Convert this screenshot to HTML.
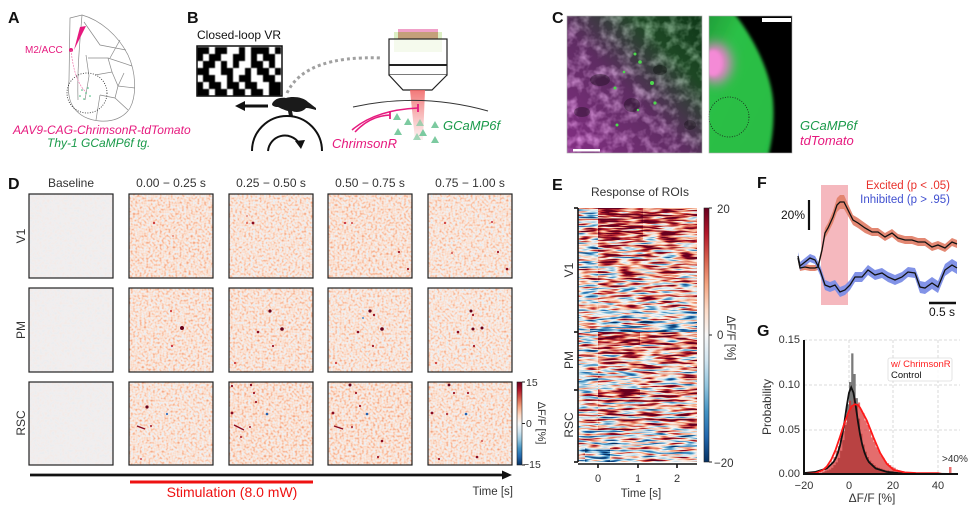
<!DOCTYPE html>
<html><head><meta charset="utf-8"><style>
html,body{margin:0;padding:0;background:#fff;}
svg{display:block;font-family:"Liberation Sans",Arial,sans-serif;}
</style></head><body>
<svg width="969" height="507" viewBox="0 0 969 507" xmlns="http://www.w3.org/2000/svg">
<defs>
 <linearGradient id="rdbu" x1="0" y1="0" x2="0" y2="1">
  <stop offset="0" stop-color="#67001f"/><stop offset="0.1" stop-color="#b2182b"/>
  <stop offset="0.2" stop-color="#d6604d"/><stop offset="0.3" stop-color="#f4a582"/>
  <stop offset="0.4" stop-color="#fddbc7"/><stop offset="0.5" stop-color="#f7f7f7"/>
  <stop offset="0.6" stop-color="#d1e5f0"/><stop offset="0.7" stop-color="#92c5de"/>
  <stop offset="0.8" stop-color="#4393c3"/><stop offset="0.9" stop-color="#2166ac"/>
  <stop offset="1" stop-color="#053061"/>
 </linearGradient>
 <filter id="fD" x="0" y="0" width="1" height="1" color-interpolation-filters="sRGB">
  <feTurbulence type="fractalNoise" baseFrequency="0.45" numOctaves="1" seed="3" result="n"/>
  <feColorMatrix in="n" type="matrix" values="1 0 0 0 0 1 0 0 0 0 1 0 0 0 0 0 0 0 0 1" result="g"/>
  <feComposite in="SourceGraphic" in2="g" operator="arithmetic" k1="0" k2="1" k3="0.45" k4="-0.225" result="c"/>
  <feComponentTransfer in="c">
   <feFuncR type="table" tableValues="0.020 0.129 0.263 0.573 0.820 0.955 0.992 0.957 0.839 0.698 0.404"/>
   <feFuncG type="table" tableValues="0.188 0.400 0.576 0.773 0.898 0.945 0.859 0.647 0.376 0.094 0.000"/>
   <feFuncB type="table" tableValues="0.380 0.675 0.765 0.871 0.941 0.948 0.780 0.510 0.302 0.169 0.122"/>
  </feComponentTransfer>
 </filter>
 <filter id="fB" x="0" y="0" width="1" height="1" color-interpolation-filters="sRGB">
  <feTurbulence type="fractalNoise" baseFrequency="0.4" numOctaves="1" seed="7" result="n"/>
  <feColorMatrix in="n" type="matrix" values="1 0 0 0 0 1 0 0 0 0 1 0 0 0 0 0 0 0 0 1" result="g"/>
  <feComposite in="SourceGraphic" in2="g" operator="arithmetic" k1="0" k2="1" k3="0.08" k4="-0.04" result="c"/>
  <feComponentTransfer in="c">
   <feFuncR type="table" tableValues="0.020 0.129 0.263 0.573 0.820 0.945 0.992 0.957 0.839 0.698 0.404"/>
   <feFuncG type="table" tableValues="0.188 0.400 0.576 0.773 0.898 0.937 0.859 0.647 0.376 0.094 0.000"/>
   <feFuncB type="table" tableValues="0.380 0.675 0.765 0.871 0.941 0.941 0.780 0.510 0.302 0.169 0.122"/>
  </feComponentTransfer>
 </filter>
 <filter id="fE" x="0" y="0" width="1" height="1" color-interpolation-filters="sRGB">
  <feTurbulence type="fractalNoise" baseFrequency="0.05 0.42" numOctaves="2" seed="11" result="n"/>
  <feColorMatrix in="n" type="matrix" values="1 0 0 0 0 1 0 0 0 0 1 0 0 0 0 0 0 0 0 1" result="g"/>
  <feComposite in="SourceGraphic" in2="g" operator="arithmetic" k1="0" k2="1" k3="1.8" k4="-0.9" result="c"/>
  <feComponentTransfer in="c">
   <feFuncR type="table" tableValues="0.020 0.129 0.263 0.573 0.820 0.969 0.992 0.957 0.839 0.698 0.404"/>
   <feFuncG type="table" tableValues="0.188 0.400 0.576 0.773 0.898 0.969 0.859 0.647 0.376 0.094 0.000"/>
   <feFuncB type="table" tableValues="0.380 0.675 0.765 0.871 0.941 0.969 0.780 0.510 0.302 0.169 0.122"/>
  </feComponentTransfer>
 </filter>
 <filter id="fC" x="0" y="0" width="1" height="1" color-interpolation-filters="sRGB">
  <feTurbulence type="fractalNoise" baseFrequency="0.09" numOctaves="3" seed="5" result="n"/>
  <feColorMatrix in="n" type="matrix" values="2.4 0 0 0 -1.0 2.4 0 0 0 -1.0 2.4 0 0 0 -1.0 0 0 0 0 1"/>
 </filter>
 <filter id="blur2"><feGaussianBlur stdDeviation="1.5"/></filter>
 <filter id="blur6" x="-1" y="-1" width="3" height="3"><feGaussianBlur stdDeviation="6"/></filter>
 <filter id="blurS"><feGaussianBlur stdDeviation="0.5"/></filter>
 <linearGradient id="cl1" x1="0" y1="1" x2="1" y2="0">
  <stop offset="0" stop-color="#c446c4"/><stop offset="0.45" stop-color="#8c4292"/>
  <stop offset="0.75" stop-color="#2c6a36"/><stop offset="1" stop-color="#155222"/>
 </linearGradient>
 <linearGradient id="beam" x1="0" y1="0" x2="0" y2="1">
  <stop offset="0" stop-color="#f06060" stop-opacity="0.85"/><stop offset="1" stop-color="#f08080" stop-opacity="0.1"/>
 </linearGradient>
 <linearGradient id="gr" x1="0" y1="0" x2="1" y2="1">
  <stop offset="0" stop-color="#1f9a38"/><stop offset="0.3" stop-color="#2cc046"/><stop offset="1" stop-color="#28bc44"/>
 </linearGradient>
 <clipPath id="clipC2"><rect x="709" y="16" width="83" height="137"/></clipPath>
</defs>

<!-- ===== Panel A ===== -->
<text x="8" y="23" font-size="16" font-weight="bold" fill="#111">A</text>
<g fill="none" stroke="#8a8a8a" stroke-width="0.7">
 <path d="M70 18 L82 15 C100 20 118 35 128 55 C136 72 137 95 130 108 C124 118 112 122 100 121 C88 120 80 116 74 108 C68 100 68 90 69 80 Z"/>
 <path d="M82 15 C80 40 77 70 78 100"/>
 <path d="M84 22 L100 45 L126 50"/>
 <path d="M88 58 L108 58 L132 66"/>
 <path d="M95 75 L112 72 L118 86 L135 88"/>
 <path d="M100 95 L115 98 L128 110"/>
 <path d="M86 55 L89 76 L85 100"/>
 <path d="M108 58 L112 72"/><path d="M115 98 L118 86"/><path d="M100 95 L96 120"/>
 <path d="M120 40 L110 58"/><path d="M124 73 L118 86"/>
</g>
<circle cx="87" cy="93" r="20" fill="none" stroke="#222" stroke-width="0.8" stroke-dasharray="1 1.5"/>
<polygon points="80,27 86,26 74,50" fill="#e6197e"/>
<circle cx="71" cy="50" r="2" fill="#e6197e"/>
<path d="M71 50 C73 70 78 85 86 92" fill="none" stroke="#f07ab0" stroke-width="0.7" stroke-dasharray="2 1"/>
<g fill="#3cb878"><circle cx="82" cy="90" r="0.8"/><circle cx="86" cy="93" r="0.8"/><circle cx="80" cy="96" r="0.8"/><circle cx="88" cy="88" r="0.8"/><circle cx="84" cy="99" r="0.8"/><circle cx="90" cy="96" r="0.8"/></g>
<text x="25" y="53" font-size="10" fill="#e6197e">M2/ACC</text>
<text x="13" y="134" font-size="12" font-style="italic" fill="#e6197e">AAV9-CAG-ChrimsonR-tdTomato</text>
<text x="47" y="147" font-size="12" font-style="italic" fill="#1a9a4a">Thy-1 GCaMP6f tg.</text>

<!-- ===== Panel B ===== -->
<text x="187" y="23" font-size="16" font-weight="bold" fill="#111">B</text>
<text x="197" y="39" font-size="12" fill="#111">Closed-loop VR</text>
<g fill="#000" filter="url(#blurS)">
 <rect x="197" y="47" width="12" height="7"/><rect x="215" y="47" width="12" height="7"/><rect x="239" y="47" width="6" height="7"/><rect x="251" y="47" width="18" height="7"/><rect x="275" y="47" width="6" height="7"/>
 <rect x="197" y="54" width="6" height="7"/><rect x="209" y="54" width="12" height="7"/><rect x="233" y="54" width="12" height="7"/><rect x="251" y="54" width="6" height="7"/><rect x="263" y="54" width="12" height="7"/>
 <rect x="203" y="61" width="12" height="7"/><rect x="221" y="61" width="6" height="7"/><rect x="233" y="61" width="6" height="7"/><rect x="251" y="61" width="12" height="7"/><rect x="269" y="61" width="6" height="7"/>
 <rect x="197" y="68" width="12" height="7"/><rect x="221" y="68" width="12" height="7"/><rect x="245" y="68" width="6" height="7"/><rect x="257" y="68" width="12" height="7"/><rect x="275" y="68" width="6" height="7"/>
 <rect x="203" y="75" width="12" height="7"/><rect x="227" y="75" width="6" height="7"/><rect x="239" y="75" width="12" height="7"/><rect x="263" y="75" width="12" height="7"/>
 <rect x="197" y="82" width="6" height="7"/><rect x="209" y="82" width="12" height="7"/><rect x="227" y="82" width="12" height="7"/><rect x="245" y="82" width="12" height="7"/><rect x="269" y="82" width="12" height="7"/>
 <rect x="197" y="89" width="12" height="7"/><rect x="215" y="89" width="12" height="7"/><rect x="233" y="89" width="12" height="7"/><rect x="251" y="89" width="12" height="7"/><rect x="269" y="89" width="12" height="7"/>
</g>
<rect x="197" y="46" width="85" height="50" fill="none" stroke="#111" stroke-width="1.5"/>
<path d="M287 93 Q305 55 382 58" fill="none" stroke="#a0a0a0" stroke-width="3" stroke-dasharray="3 3"/>
<line x1="243" y1="106" x2="268" y2="106" stroke="#111" stroke-width="3"/>
<polygon points="235,106 245,101 245,111" fill="#111"/>
<path d="M272 104 C274 99 280 97 286 98 C293 96 303 97 308 102 C311 104 313 106 316 108 L316 110 C312 109 309 108 306 108 C303 112 296 113 292 111 L293 116 L289 116 L288 111 C284 110 280 108 278 107 C275 107 272 106 272 104 Z" fill="#1a1a1a"/>
<path d="M252 151 A35 35 0 0 1 322 151" fill="none" stroke="#111" stroke-width="2"/>
<path d="M268 151 A17 17 0 0 1 299 143" fill="none" stroke="#111" stroke-width="2"/>
<polygon points="295,141 305,140 301,149" fill="#111"/>
<!-- microscope -->
<rect x="394" y="32" width="48" height="20" fill="#dcefc4"/>
<rect x="398" y="29" width="40" height="3" fill="#f0a0c8"/>
<rect x="398" y="32" width="40" height="7" fill="#c4a07a"/>
<rect x="389" y="39" width="58" height="36" fill="#fff" fill-opacity="0.7" stroke="#222" stroke-width="1.2"/>
<line x1="389" y1="65" x2="447" y2="65" stroke="#222" stroke-width="2"/>
<path d="M389 75 L403 90 L432 90 L447 75" fill="#fff" stroke="#222" stroke-width="1.2"/>
<polygon points="410,90 425,90 423,140 415,140" fill="url(#beam)"/>
<path d="M353 107 Q420 92 488 111" fill="none" stroke="#333" stroke-width="1"/>
<path d="M352 130 Q375 110 418 108" fill="none" stroke="#e6197e" stroke-width="1.5"/>
<line x1="418" y1="104" x2="418" y2="112" stroke="#e6197e" stroke-width="1.8"/>
<path d="M355 132 Q370 116 390 115" fill="none" stroke="#e6197e" stroke-width="1.5"/>
<line x1="390" y1="111" x2="390" y2="119" stroke="#e6197e" stroke-width="1.8"/>
<g fill="#7ccaa0">
 <polygon points="397,113 393,120 401,120"/><polygon points="408,118 404,125 412,125"/><polygon points="420,119 416,126 424,126" opacity="0.7"/><polygon points="435,121 431,128 439,128"/>
 <polygon points="398,128 394,135 402,135"/><polygon points="423,129 419,136 427,136"/><polygon points="417,133 413,140 421,140" opacity="0.7"/><polygon points="435,136 431,143 439,143"/>
</g>
<text x="443" y="130" font-size="13" font-style="italic" fill="#1a9a4a">GCaMP6f</text>
<text x="332" y="148" font-size="13" font-style="italic" fill="#e6197e">ChrimsonR</text>

<!-- ===== Panel C ===== -->
<text x="552" y="23" font-size="16" font-weight="bold" fill="#111">C</text>
<rect x="567" y="16" width="135" height="137" fill="url(#cl1)"/>
<rect x="567" y="16" width="135" height="137" filter="url(#fC)" opacity="0.32"/>
<g fill="#000" opacity="0.3">
 <ellipse cx="600" cy="80" rx="10" ry="6"/><ellipse cx="632" cy="105" rx="8" ry="7"/><ellipse cx="690" cy="125" rx="6" ry="5"/><ellipse cx="582" cy="112" rx="8" ry="5"/><ellipse cx="660" cy="70" rx="7" ry="5"/>
</g>
<g fill="#4ed84e">
 <circle cx="635" cy="54" r="1.5"/><circle cx="640" cy="62" r="1.8"/><circle cx="615" cy="88" r="1.5"/><circle cx="652" cy="83" r="2"/><circle cx="655" cy="103" r="1.6"/><circle cx="617" cy="125" r="1.5"/><circle cx="638" cy="110" r="1.3"/><circle cx="624" cy="72" r="1.3"/>
</g>
<rect x="573" y="149" width="27" height="2.5" fill="#fff"/>
<rect x="567" y="16" width="135" height="137" fill="none" stroke="#aaa" stroke-width="0.6"/>
<rect x="709" y="16" width="83" height="137" fill="#000"/>
<g clip-path="url(#clipC2)">
 <path d="M705 12 L733 12 C752 35 770 70 773 100 C775 125 771 145 768 157 L705 157 Z" fill="url(#gr)" filter="url(#blur2)"/>
 <ellipse cx="715" cy="63" rx="16" ry="20" fill="#f080d0" filter="url(#blur6)"/>
 <ellipse cx="713" cy="63" rx="9" ry="13" fill="#f48ad6" filter="url(#blur2)"/>
</g>
<circle cx="729" cy="117" r="20" fill="none" stroke="#1a1a1a" stroke-width="0.8" stroke-dasharray="1 1.5"/>
<rect x="762" y="18" width="29" height="4" fill="#fff"/>
<rect x="709" y="16" width="83" height="137" fill="none" stroke="#aaa" stroke-width="0.6"/>
<text x="800" y="130" font-size="13" font-style="italic" fill="#1a9a4a">GCaMP6f</text>
<text x="800" y="145" font-size="13" font-style="italic" fill="#e6197e">tdTomato</text>

<!-- ===== Panel D ===== -->
<text x="8" y="189" font-size="16" font-weight="bold" fill="#111">D</text>
<g font-size="12" fill="#333" text-anchor="middle">
 <text x="71" y="187">Baseline</text>
 <text x="171" y="187">0.00 − 0.25 s</text>
 <text x="271" y="187">0.25 − 0.50 s</text>
 <text x="370" y="187">0.50 − 0.75 s</text>
 <text x="470" y="187">0.75 − 1.00 s</text>
 <text transform="translate(25,236) rotate(-90)">V1</text>
 <text transform="translate(25,330) rotate(-90)">PM</text>
 <text transform="translate(25,423) rotate(-90)">RSC</text>
</g>
<g>
 <rect x="29" y="194" width="84" height="84" fill="rgb(128,128,128)" filter="url(#fB)"/>
 <rect x="29" y="288" width="84" height="84" fill="rgb(128,128,128)" filter="url(#fB)"/>
 <rect x="29" y="382" width="84" height="83" fill="rgb(128,128,128)" filter="url(#fB)"/>
 <rect x="129" y="194" width="84" height="84" fill="rgb(146,146,146)" filter="url(#fD)"/>
 <rect x="229" y="194" width="84" height="84" fill="rgb(144,144,144)" filter="url(#fD)"/>
 <rect x="328" y="194" width="84" height="84" fill="rgb(146,146,146)" filter="url(#fD)"/>
 <rect x="428" y="194" width="84" height="84" fill="rgb(144,144,144)" filter="url(#fD)"/>
 <rect x="129" y="288" width="84" height="84" fill="rgb(145,145,145)" filter="url(#fD)"/>
 <rect x="229" y="288" width="84" height="84" fill="rgb(145,145,145)" filter="url(#fD)"/>
 <rect x="328" y="288" width="84" height="84" fill="rgb(144,144,144)" filter="url(#fD)"/>
 <rect x="428" y="288" width="84" height="84" fill="rgb(143,143,143)" filter="url(#fD)"/>
 <rect x="129" y="382" width="84" height="83" fill="rgb(144,144,144)" filter="url(#fD)"/>
 <rect x="229" y="382" width="84" height="83" fill="rgb(147,147,147)" filter="url(#fD)"/>
 <rect x="328" y="382" width="84" height="83" fill="rgb(147,147,147)" filter="url(#fD)"/>
 <rect x="428" y="382" width="84" height="83" fill="rgb(145,145,145)" filter="url(#fD)"/>
</g>
<g fill="#a01828">
 <circle cx="154" cy="223" r="1.2" fill="#d04040"/><circle cx="173" cy="236" r="0.9" fill="#e07060"/>
 <circle cx="253" cy="223" r="1.4" fill="#8b0a1f"/><circle cx="247" cy="223" r="1" fill="#e06050"/><circle cx="247" cy="216" r="0.9" fill="#e07060"/>
 <circle cx="345" cy="223" r="1.1" fill="#c83040"/><circle cx="352" cy="223" r="1" fill="#d04040"/><circle cx="399" cy="252" r="1.1"/><circle cx="408" cy="269" r="1.1"/>
 <circle cx="445" cy="223" r="1.1" fill="#d04040"/><circle cx="492" cy="222" r="1" fill="#c83040"/><circle cx="498" cy="252" r="1.1"/><circle cx="507" cy="269" r="1.3" fill="#8b0a1f"/><circle cx="452" cy="253" r="1" fill="#d05050"/>
 <circle cx="171" cy="311" r="1.1" fill="#d04040"/><circle cx="182" cy="328" r="2" fill="#6a0018"/><circle cx="172" cy="346" r="1.1" fill="#c83040"/>
 <circle cx="270" cy="311" r="1.6" fill="#6a0018"/><circle cx="282" cy="329" r="1.8" fill="#6a0018"/><circle cx="258" cy="332" r="1.3" fill="#8b0a1f"/><circle cx="273" cy="346" r="1.1"/><circle cx="235" cy="363" r="1.1" fill="#d04040"/>
 <circle cx="370" cy="311" r="1.6" fill="#6a0018"/><circle cx="374" cy="315" r="1.2"/><circle cx="382" cy="329" r="1.8" fill="#6a0018"/><circle cx="358" cy="332" r="1.3" fill="#8b0a1f"/><circle cx="373" cy="346" r="1.1"/><circle cx="336" cy="363" r="1.1" fill="#d04040"/><circle cx="363" cy="318" r="1" fill="#4a90d0"/>
 <circle cx="471" cy="311" r="1.5" fill="#6a0018"/><circle cx="473" cy="315" r="1.1"/><circle cx="458" cy="332" r="1.3" fill="#8b0a1f"/><circle cx="473" cy="329" r="1.5" fill="#6a0018"/><circle cx="482" cy="328" r="1.5" fill="#6a0018"/><circle cx="474" cy="346" r="1.1"/><circle cx="436" cy="363" r="1.1" fill="#d04040"/>
 <circle cx="147" cy="407" r="1.6" fill="#6a0018"/><circle cx="167" cy="414" r="1.1" fill="#3070c0"/><path d="M137 426 L145 429" stroke="#8b0a1f" stroke-width="1.3"/><circle cx="151" cy="426" r="1"/><circle cx="141" cy="459" r="1" fill="#d05050"/>
 <circle cx="251" cy="385" r="1.2" fill="#8b0a1f"/><circle cx="232" cy="386" r="1.1" fill="#8b0a1f"/><circle cx="254" cy="393" r="1.1"/><circle cx="256" cy="402" r="1.1"/><circle cx="232" cy="413" r="1.4" fill="#8b0a1f"/><circle cx="267" cy="414" r="1.3" fill="#2060b0"/><path d="M234 425 L244 430" stroke="#8b0a1f" stroke-width="1.3"/><circle cx="250" cy="427" r="1"/><circle cx="241" cy="437" r="1"/>
 <circle cx="350" cy="385" r="1.5" fill="#6a0018"/><circle cx="356" cy="393" r="1.1"/><circle cx="360" cy="406" r="1.1"/><circle cx="333" cy="413" r="1.4" fill="#8b0a1f"/><circle cx="367" cy="414" r="1.3" fill="#2060b0"/><circle cx="382" cy="441" r="1.3" fill="#8b0a1f"/><circle cx="378" cy="457" r="1.1"/><path d="M334 426 L343 429" stroke="#8b0a1f" stroke-width="1.3"/><circle cx="352" cy="427" r="1"/>
 <circle cx="449" cy="385" r="1.4" fill="#6a0018"/><circle cx="454" cy="393" r="1.1"/><circle cx="468" cy="393" r="1.1"/><circle cx="432" cy="413" r="1.4" fill="#8b0a1f"/><circle cx="466" cy="414" r="1.3" fill="#2060b0"/><circle cx="447" cy="414" r="1"/><circle cx="477" cy="457" r="1.3" fill="#8b0a1f"/><circle cx="439" cy="459" r="1.1"/><circle cx="482" cy="441" r="1" fill="#d05050"/>
</g>
<g fill="none" stroke="#222" stroke-width="1.2">
 <rect x="29" y="194" width="84" height="84"/><rect x="129" y="194" width="84" height="84"/><rect x="229" y="194" width="84" height="84"/><rect x="328" y="194" width="84" height="84"/><rect x="428" y="194" width="84" height="84"/>
 <rect x="29" y="288" width="84" height="84"/><rect x="129" y="288" width="84" height="84"/><rect x="229" y="288" width="84" height="84"/><rect x="328" y="288" width="84" height="84"/><rect x="428" y="288" width="84" height="84"/>
 <rect x="29" y="382" width="84" height="83"/><rect x="129" y="382" width="84" height="83"/><rect x="229" y="382" width="84" height="83"/><rect x="328" y="382" width="84" height="83"/><rect x="428" y="382" width="84" height="83"/>
</g>
<rect x="517" y="382" width="5" height="83" fill="url(#rdbu)"/>
<rect x="517" y="382" width="5" height="83" fill="none" stroke="#222" stroke-width="0.6"/>
<g stroke="#222" stroke-width="1"><line x1="522" y1="382" x2="525" y2="382"/><line x1="522" y1="423.5" x2="525" y2="423.5"/><line x1="522" y1="465" x2="525" y2="465"/></g>
<g font-size="10.5" fill="#333">
 <text x="526" y="386">15</text><text x="526" y="427">0</text><text x="523" y="468">−15</text>
 <text transform="translate(538,423) rotate(90)" text-anchor="middle" font-size="11">ΔF/F [%]</text>
</g>
<line x1="30" y1="475" x2="505" y2="475" stroke="#111" stroke-width="2.8"/>
<polygon points="512,475 502,470.5 502,479.5" fill="#111"/>
<line x1="130" y1="482" x2="313" y2="482" stroke="#ee1111" stroke-width="3"/>
<text x="232" y="497" font-size="14" fill="#ee1111" text-anchor="middle">Stimulation (8.0 mW)</text>
<text x="513" y="495" font-size="11.5" fill="#333" text-anchor="end">Time [s]</text>

<!-- ===== Panel E ===== -->
<text x="552" y="190" font-size="16" font-weight="bold" fill="#111">E</text>
<text x="640" y="196" font-size="12" fill="#333" text-anchor="middle">Response of ROIs</text>
<g filter="url(#fE)">
 <rect x="578" y="208" width="119" height="254" fill="rgb(150,150,150)"/>
 <rect x="578" y="208" width="20" height="124" fill="rgb(134,134,134)"/>
 <rect x="598" y="208" width="45" height="32" fill="rgb(222,222,222)"/>
 <rect x="643" y="208" width="54" height="32" fill="rgb(192,192,192)"/>
 <rect x="598" y="240" width="99" height="40" fill="rgb(170,170,170)"/>
 <rect x="598" y="280" width="99" height="30" fill="rgb(154,154,154)"/>
 <rect x="598" y="310" width="99" height="19" fill="rgb(118,118,118)"/>
 <rect x="578" y="310" width="20" height="19" fill="rgb(115,115,115)"/>
 <rect x="590" y="329" width="107" height="3" fill="rgb(45,45,45)"/>
 <rect x="578" y="332" width="20" height="58" fill="rgb(138,138,138)"/>
 <rect x="598" y="332" width="42" height="13" fill="rgb(222,222,222)"/>
 <rect x="640" y="332" width="57" height="13" fill="rgb(184,184,184)"/>
 <rect x="598" y="345" width="99" height="25" fill="rgb(176,176,176)"/>
 <rect x="598" y="370" width="99" height="20" fill="rgb(140,140,140)"/>
 <rect x="578" y="370" width="20" height="20" fill="rgb(104,104,104)"/>
 <rect x="578" y="390" width="20" height="40" fill="rgb(136,136,136)"/>
 <rect x="598" y="389" width="42" height="9" fill="rgb(218,218,218)"/>
 <rect x="640" y="389" width="57" height="9" fill="rgb(182,182,182)"/>
 <rect x="598" y="398" width="99" height="32" fill="rgb(168,168,168)"/>
 <rect x="578" y="430" width="119" height="32" fill="rgb(132,132,132)"/>
 <rect x="585" y="448" width="25" height="14" fill="rgb(76,76,76)"/>
</g>
<g stroke="#111" stroke-width="1.6">
 <line x1="578" y1="208" x2="578" y2="462"/>
 <line x1="574" y1="208" x2="578" y2="208"/><line x1="574" y1="332" x2="578" y2="332"/><line x1="574" y1="390" x2="578" y2="390"/><line x1="574" y1="462" x2="578" y2="462"/>
 <line x1="578" y1="464" x2="697" y2="464"/>
 <line x1="598" y1="464" x2="598" y2="468"/><line x1="638" y1="464" x2="638" y2="468"/><line x1="677" y1="464" x2="677" y2="468"/>
</g>
<g font-size="12" fill="#333" text-anchor="middle">
 <text transform="translate(573,270) rotate(-90)">V1</text>
 <text transform="translate(573,360) rotate(-90)">PM</text>
 <text transform="translate(573,425) rotate(-90)">RSC</text>
 <text x="598" y="482" font-size="11">0</text><text x="638" y="482" font-size="11">1</text><text x="677" y="482" font-size="11">2</text>
 <text x="641" y="497" font-size="11.5">Time [s]</text>
</g>
<rect x="704" y="208" width="5" height="254" fill="url(#rdbu)"/>
<rect x="704" y="208" width="5" height="254" fill="none" stroke="#222" stroke-width="0.6"/>
<g stroke="#222" stroke-width="1"><line x1="709" y1="208" x2="712" y2="208"/><line x1="709" y1="335" x2="712" y2="335"/><line x1="709" y1="462" x2="712" y2="462"/></g>
<g font-size="11.5" fill="#333">
 <text x="717" y="213">20</text><text x="717" y="339">0</text><text x="714" y="467">−20</text>
 <text transform="translate(727,338) rotate(90)" text-anchor="middle" font-size="11.5">ΔF/F [%]</text>
</g>

<!-- ===== Panel F ===== -->
<text x="757" y="188" font-size="16" font-weight="bold" fill="#111">F</text>
<rect x="821" y="185" width="27" height="120" fill="#f5b8be"/>
<polygon fill="#e2826c" opacity="0.95" points="798,255 800,265 805,264 810,265 815,265 818,264 822,246 825,228 828,223 833,211 837,198 840,195 844,195 848,204 853,215 858,218 865,223 872,228 878,228 885,233 892,229 898,234 905,236 912,236 918,238 925,238 932,243 938,241 945,244 952,238 957,240 957,248 952,246 945,252 938,249 932,251 925,246 918,246 912,244 905,244 898,242 892,237 885,241 878,236 872,236 865,233 858,228 853,225 848,216 844,209 840,209 837,212 833,223 828,233 825,238 822,254 818,270 815,271 810,271 805,270 800,271 798,261"/>
<polygon fill="#7b8de6" opacity="0.95" points="798,252 800,262 805,258 810,254 815,256 820,265 825,280 830,282 835,280 840,287 845,285 850,280 855,272 862,272 868,265 875,270 882,268 888,272 895,275 902,272 908,267 915,268 920,281 925,282 932,277 938,281 945,264 952,259 957,262 957,274 952,271 945,276 938,293 932,289 925,294 920,293 915,278 908,277 902,282 895,285 888,282 882,278 875,280 868,275 862,282 855,282 850,290 845,295 840,297 835,290 830,292 825,290 820,275 815,264 810,262 805,266 800,270 798,260"/>
<polyline fill="none" stroke="#111" stroke-width="1.3" points="798,258 800,268 805,267 810,268 815,268 818,267 822,250 825,233 828,228 833,217 837,205 840,202 844,202 848,210 853,220 858,223 865,228 872,232 878,232 885,237 892,233 898,238 905,240 912,240 918,242 925,242 932,247 938,245 945,248 952,242 957,244"/>
<polyline fill="none" stroke="#111" stroke-width="1.3" points="798,256 800,266 805,262 810,258 815,260 820,270 825,285 830,287 835,285 840,292 845,290 850,285 855,277 862,277 868,270 875,275 882,273 888,277 895,280 902,277 908,272 915,273 920,287 925,288 932,283 938,287 945,270 952,265 957,268"/>
<line x1="809" y1="200" x2="809" y2="230" stroke="#111" stroke-width="2.2"/>
<text x="805" y="219" font-size="12" fill="#111" text-anchor="end">20%</text>
<text x="950" y="189" font-size="11.5" fill="#e8302a" text-anchor="end">Excited (p &lt; .05)</text>
<text x="950" y="203" font-size="11.5" fill="#4050d0" text-anchor="end">Inhibited (p &gt; .95)</text>
<line x1="929" y1="303" x2="956" y2="303" stroke="#111" stroke-width="2.5"/>
<text x="942" y="316" font-size="12" fill="#111" text-anchor="middle">0.5 s</text>

<!-- ===== Panel G ===== -->
<text x="757" y="336" font-size="16" font-weight="bold" fill="#111">G</text>
<g stroke="#cfcfcf" stroke-width="0.8" stroke-dasharray="3 2">
 <line x1="804" y1="340" x2="960" y2="340"/><line x1="804" y1="385" x2="960" y2="385"/><line x1="804" y1="430" x2="960" y2="430"/>
 <line x1="849" y1="340" x2="849" y2="474"/><line x1="893" y1="340" x2="893" y2="474"/><line x1="938" y1="340" x2="938" y2="474"/>
</g>
<path fill="#7a7a7a" d="M822.3 474 V472.2 H824.5 V471.3 H826.75 V470.4 H829 V469.5 H831.2 V467.7 H833.4 V465.1 H835.65 V462.4 H837.9 V457.9 H840.1 V450.8 H842.3 V440.1 H844.55 V424.9 H846.8 V404.3 H849 V382 H851.2 V353.4 H853.45 V374 H855.7 V398.1 H857.9 V418.6 H860.1 V433.8 H862.35 V444.5 H864.6 V451.7 H866.8 V457 H869 V460.6 H871.25 V463.3 H873.5 V465.1 H875.7 V466.9 H877.9 V467.7 H880.15 V468.6 H882.4 V469.5 H884.6 V470.4 H889.05 V471.3 H893.5 V472.2 H895.7 V474 Z"/>
<path fill="rgb(215,40,40)" fill-opacity="0.68" d="M817.85 474 V473.1 H820.1 V472.2 H822.3 V471.3 H824.5 V469.5 H826.75 V467.7 H829 V465.1 H831.2 V461.5 H833.4 V457 H835.65 V450.8 H837.9 V446.3 H840.1 V438.3 H842.3 V431.1 H844.55 V422.2 H846.8 V415 H849 V400.7 H851.2 V406.1 H853.45 V398.1 H855.7 V404.3 H857.9 V402.5 H860.1 V409.7 H862.35 V413.3 H864.6 V420.4 H866.8 V424.9 H869 V431.1 H871.25 V437.4 H873.5 V441.8 H875.7 V447.2 H877.9 V450.8 H880.15 V455.2 H882.4 V457.9 H884.6 V461.5 H886.8 V463.3 H889.05 V465.1 H891.3 V466.9 H893.5 V467.7 H895.7 V469.5 H897.95 V470.4 H900.2 V471.3 H904.6 V472.2 H915.75 V472.9 H938 V474 Z"/>
<rect x="949" y="467" width="2.5" height="7" fill="#e87070"/>
<polyline fill="none" stroke="#111" stroke-width="1.8" points="804.5,473 815.6,471.9 826.75,468.5 833.4,462.2 835.65,458.4 837.9,452.8 840.1,445.2 842.3,434.7 844.55,421.3 846.8,405.8 849,392.7 851.2,387.3 853.45,392.7 855.7,405.8 857.9,421.3 860.1,434.7 862.35,445.2 864.6,452.8 866.8,458.4 869,462.2 875.7,468.5 886.8,471.9 898,473 915.75,473.6 949,473.9"/>
<polyline fill="none" stroke="#ff1a1a" stroke-width="1.8" points="804.5,474 815.6,473.1 822.3,470.5 826.75,466.6 831.2,459.8 835.65,449.6 840.1,436.6 844.55,422.7 849,411 852,406 855,404.3 858,405 860.1,407.7 866.8,420.4 873.5,437.5 880.15,453 886.8,463.8 893.5,469.8 904.6,472.4 915.75,473 938,473.2 942.5,474"/>
<g stroke="#111" stroke-width="2">
 <line x1="804" y1="340" x2="804" y2="475"/><line x1="803" y1="474" x2="958" y2="474"/>
</g>
<g font-size="11" fill="#333" text-anchor="end">
 <text x="800" y="343">0.15</text><text x="800" y="388">0.10</text><text x="800" y="433">0.05</text><text x="800" y="477">0.00</text>
</g>
<g font-size="11" fill="#333" text-anchor="middle">
 <text x="804" y="489">−20</text><text x="849" y="489">0</text><text x="893" y="489">20</text><text x="938" y="489">40</text>
 <text x="872" y="502" font-size="12">ΔF/F [%]</text>
 <text transform="translate(771,407) rotate(-90)" font-size="12">Probability</text>
</g>
<rect x="888" y="358" width="64" height="23" rx="2" fill="#fff" fill-opacity="0.85" stroke="#ddd" stroke-width="0.8"/>
<text x="891" y="367" font-size="9.5" fill="#ff2020">w/ ChrimsonR</text>
<text x="891" y="378" font-size="9.5" fill="#111">Control</text>
<text x="942" y="462" font-size="10" fill="#333">&gt;40%</text>
</svg>
</body></html>
